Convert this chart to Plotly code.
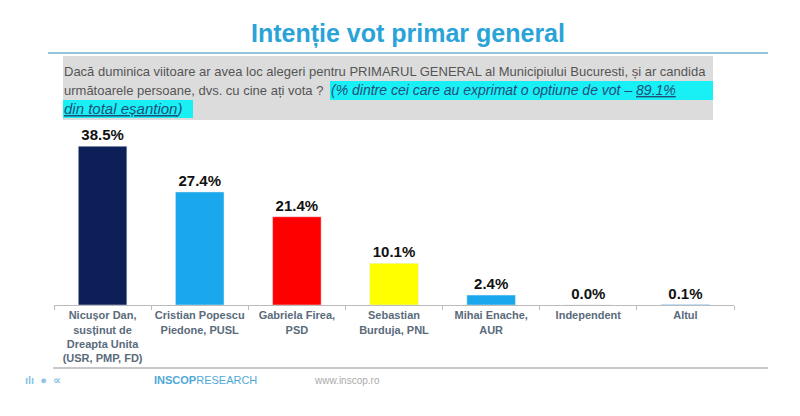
import plotly.graph_objects as go

candidates = ["Nicușor Dan,<br>susținut de<br>Dreapta Unita<br>(USR, PMP, FD)",
              "Cristian Popescu<br>Piedone, PUSL",
              "Gabriela Firea,<br>PSD",
              "Sebastian<br>Burduja, PNL",
              "Mihai Enache,<br>AUR",
              "Independent",
              "Altul"]
votes = [38.5, 27.4, 21.4, 10.1, 2.4, 0.0, 0.1]
bar_colors = ["#0d1f57", "#1aa7ec", "#ff0000", "#ffff00", "#1aa7ec", "#1aa7ec", "#1aa7ec"]

# plot area in pixels
L, R, T, B = 46, 726, 132, 297
def px(x):
    return (x - L) / (R - L)
def py(y):
    return (B - y) / (B - T)

fig = go.Figure(go.Bar(
    x=candidates, y=votes, marker_color=bar_colors,
    text=[f"<b>{v:.1f}%</b>" for v in votes], textposition="outside",
    textfont=dict(size=15, color="#111", family="Arial"),
    cliponaxis=False,
))

P = dict(xref="paper", yref="paper")
shapes = [
    dict(type="line", x0=px(40), x1=px(760), y0=py(45), y1=py(45), line=dict(color="#6fb3d2", width=1.5), **P),
    dict(type="rect", x0=px(55), x1=px(705), y0=py(48), y1=py(112), fillcolor="#dcdcdc", line_width=0, layer="below", **P),
    dict(type="rect", x0=px(322), x1=px(705), y0=py(73), y1=py(92), fillcolor="#19f0f5", line_width=0, layer="below", **P),
    dict(type="rect", x0=px(55), x1=px(185), y0=py(92), y1=py(110), fillcolor="#19f0f5", line_width=0, layer="below", **P),
    dict(type="line", x0=px(45), x1=px(760), y0=py(360), y1=py(360), line=dict(color="#c8c8c8", width=2), **P),
]

def note(x, y, text, size=12, color="#555", anchor="left", family="Liberation Sans Narrow, Arial"):
    return dict(x=px(x), y=py(y), xref="paper", yref="paper", text=text, showarrow=False,
                xanchor=anchor, yanchor="middle", borderpad=0,
                font=dict(size=size, color=color, family=family))

annotations = [
    note(400, 25, "<b>Intenție vot primar general</b>", size=25, color="#29a3d8", anchor="center"),
    note(55, 63, "Dacă duminica viitoare ar avea loc alegeri pentru PRIMARUL GENERAL al Municipiului Bucuresti, și ar candida",
         size=13),
    note(55, 82, "următoarele persoane, dvs. cu cine ați vota ?", size=13),
    note(322, 82, "<i>(% dintre cei care au exprimat o optiune de vot – <u>89.1%</u></i>", size=14, color="#1f4e79"),
    note(55, 101, "<i><u>din total eșantion</u>)</i>", size=15, color="#1f4e79"),
    note(16, 372, "<b>ılı  ●  ∝</b>", size=11, color="#8cc4e4"),
    note(145, 372, "<b>INSCOP</b>RESEARCH", size=11, color="#4fa8d8", family="Arial"),
    note(305, 372, "www.inscop.ro", size=10, color="#aaa", family="Arial"),
]

fig.update_layout(
    width=800, height=416,
    margin=dict(l=L, r=800 - R, t=T, b=416 - B),
    paper_bgcolor="white", plot_bgcolor="white",
    bargap=0.5, showlegend=False,
    shapes=shapes, annotations=annotations,
    xaxis=dict(showline=True, linecolor="#bbb", ticks="outside", tickson="boundaries",
               tickcolor="#bbb", ticklen=4, tickangle=0,
               tickfont=dict(size=11, color="#5a6b7b", family="Liberation Sans Narrow, Arial")),
    yaxis=dict(range=[0, 40], visible=False),
)
fig.update_xaxes(tickprefix="<b>", ticksuffix="</b>")

fig.write_html("out.html")
